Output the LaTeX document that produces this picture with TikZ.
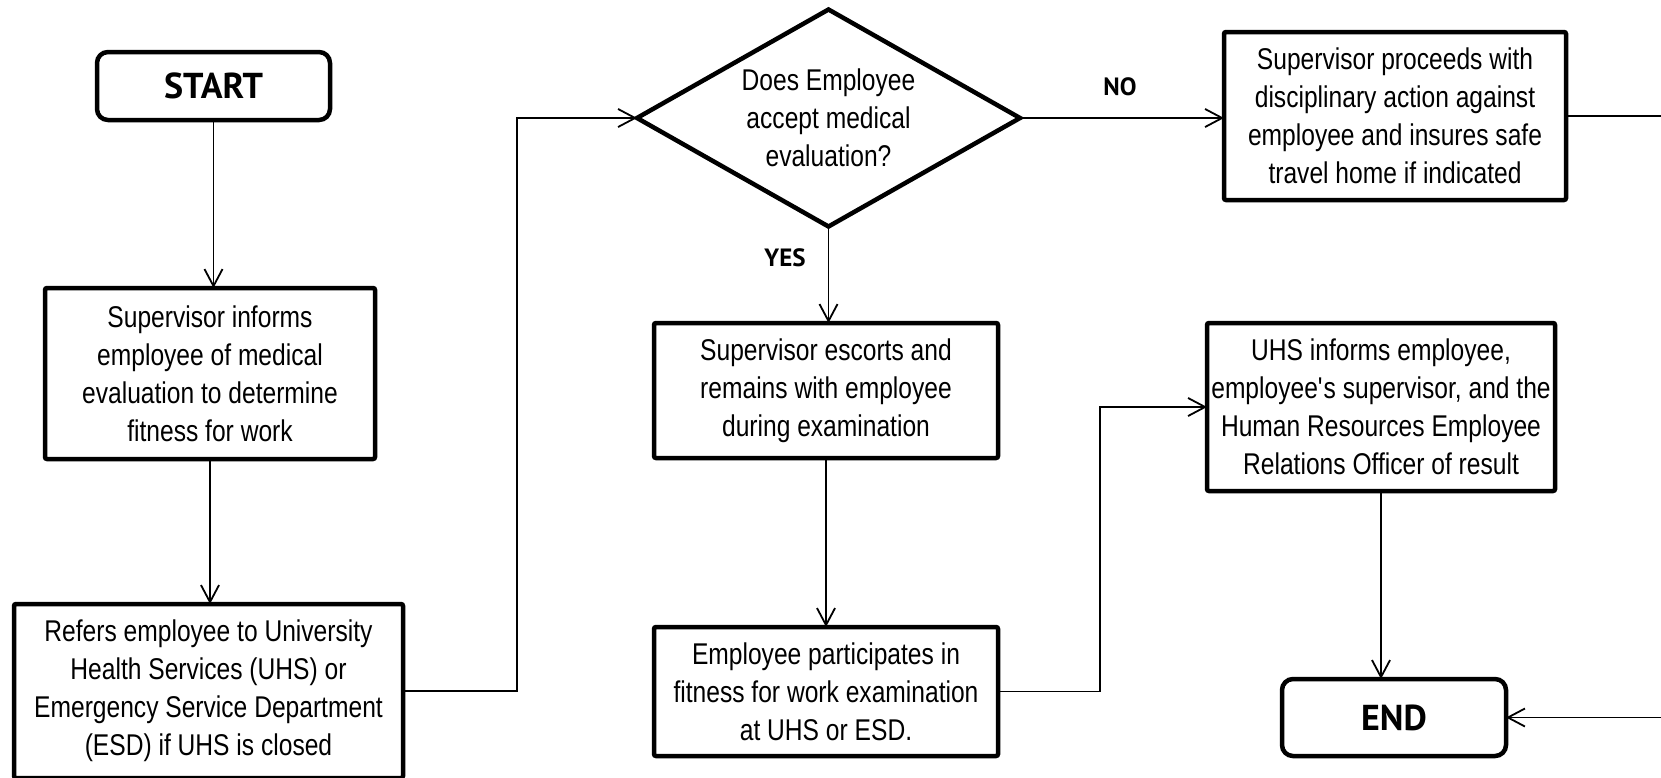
\documentclass[tikz,border=0pt]{standalone}
\usepackage{fontspec}
\setmainfont[FakeStretch=0.82]{Liberation Sans}
\newfontfamily\lblfont{PT Sans}
\usetikzlibrary{shapes.geometric,arrows.meta}
\begin{document}
\begin{tikzpicture}[x=1pt,y=-1pt,
  every node/.style={inner sep=0pt,outer sep=0pt},
  body/.style={font=\fontsize{30}{38}\selectfont,align=center},
  procbox/.style={body,draw,line width=4.5pt,rounded corners=2pt,rectangle},
  termbox/.style={draw,line width=4.5pt,rounded corners=11pt,rectangle,font=\lblfont\bfseries\fontsize{36}{40}\selectfont},
  decbox/.style={body,draw,line width=4.5pt,diamond,aspect=1.75},
  yn/.style={font=\lblfont\bfseries\fontsize{25}{28}\selectfont},
  arr/.style={line width=1.8pt,-{Straight Barb[length=17pt,width=18pt,line width=1.8pt]}},
  conn/.style={line width=1.8pt}]
\useasboundingbox (0,0) rectangle (1661,777);
\fill[white] (0,0) rectangle (1661,777);
% nodes
\node[termbox,minimum width=233pt,minimum height=68pt] (start) at (213.5,86) {START};
\node[procbox,minimum width=330pt,minimum height=171pt] (box1) at (210,373.5)
  {Supervisor informs\\employee of medical\\evaluation to determine\\fitness for work};
\node[procbox,minimum width=389pt,minimum height=174pt] (box2) at (208.5,691)
  {Refers employee to University\\Health Services (UHS) or\\Emergency Service Department\\(ESD) if UHS is closed};
\node[decbox,minimum width=383pt,minimum height=217pt] (dec) at (828.5,118)
  {Does Employee\\accept medical\\evaluation?};
\node[procbox,minimum width=342pt,minimum height=168pt] (box3) at (1395,116)
  {Supervisor proceeds with\\disciplinary action against\\employee and insures safe\\travel home if indicated};
\node[procbox,minimum width=344pt,minimum height=135pt] (box4) at (826,390.5)
  {Supervisor escorts and\\remains with employee\\during examination};
\node[procbox,minimum width=344pt,minimum height=129pt] (box5) at (826,691.5)
  {Employee participates in\\fitness for work examination\\at UHS or ESD.};
\node[procbox,minimum width=348pt,minimum height=168pt] (box6) at (1381,407)
  {UHS informs employee,\\employee\textquotesingle s supervisor, and the\\Human Resources Employee\\Relations Officer of result};
\node[termbox,minimum width=224pt,minimum height=77pt] (endn) at (1394,717.5) {END};
\node[yn] (no) at (1120,87) {NO};
\node[yn] (yes) at (785,258) {YES};
% connectors
\draw[arr] (start.south) -- (start.south |- box1.north);
\draw[arr] (box1.south) -- (box1.south |- box2.north);
\draw[arr] (box2.east) -- ++(114,0) |- (dec.west);
\draw[arr] (dec.east) -- (dec.east -| box3.west);
\draw[arr] (dec.south) -- (dec.south |- box4.north);
\draw[arr] (box4.south) -- (box4.south |- box5.north);
\draw[arr] (box5.east) -- ++(102,0) |- (box6.west);
\draw[arr] (box6.south) -- (box6.south |- endn.north);
\draw[arr] (box3.east) -- ++(140,0) |- (endn.east);
\end{tikzpicture}
\end{document}
